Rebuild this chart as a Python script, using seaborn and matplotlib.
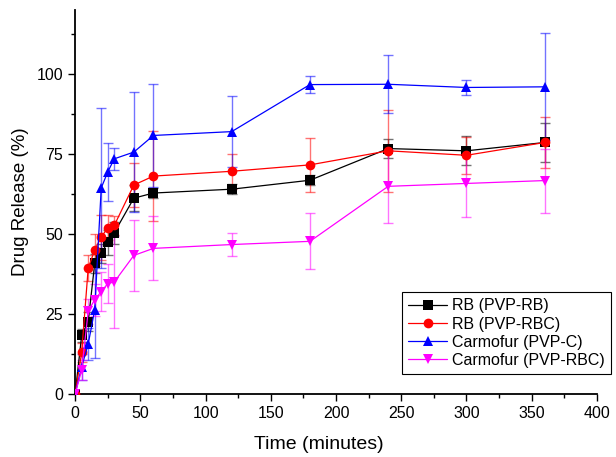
import numpy as np
import pandas as pd
import matplotlib
matplotlib.use("Agg")
import matplotlib.pyplot as plt
import seaborn as sns
from matplotlib.ticker import MultipleLocator

time = [0, 5, 10, 15, 20, 25, 30, 45, 60, 120, 180, 240, 300, 360]

rb_pvp_rb = [0, 18.3, 22.6, 40.8, 44.0, 47.4, 50.4, 61.2, 62.8, 64.0, 66.8, 76.7, 76.0, 78.6]
rb_pvp_rb_err = [0, 2, 3, 3, 3, 4, 3.5, 4, 1.5, 1.5, 1.5, 3, 4.5, 6]

rb_pvp_rbc = [0, 13.0, 39.3, 45.0, 49.0, 52.0, 52.7, 65.3, 68.1, 69.6, 71.6, 76.0, 74.6, 78.6]
rb_pvp_rbc_err = [0, 3, 4, 5, 7, 4, 3, 7, 14, 5.5, 8.5, 12.8, 5.7, 8]

carm_pvp_c = [0, 8.5, 15.6, 26.3, 64.4, 69.4, 73.5, 75.6, 80.8, 82.0, 96.7, 96.8, 95.8, 96.0]
carm_pvp_c_err = [0, 4, 5, 15, 25, 9, 3.5, 18.7, 16, 11, 2.6, 9, 2.4, 16.7]

carm_pvp_rbc = [0, 7.5, 25.8, 29.5, 32.0, 34.5, 35.0, 43.3, 45.5, 46.7, 47.7, 64.9, 65.8, 66.7]
carm_pvp_rbc_err = [0, 3, 4, 5, 6, 6, 14.5, 11, 10, 3.7, 8.8, 11.4, 10.5, 10]

labels = ["RB (PVP-RB)", "RB (PVP-RBC)", "Carmofur (PVP-C)", "Carmofur (PVP-RBC)"]
colors = ["#000000", "#FF0000", "#0000FF", "#FF00FF"]
markers = ["s", "o", "^", "v"]

values = [rb_pvp_rb, rb_pvp_rbc, carm_pvp_c, carm_pvp_rbc]
errors = [rb_pvp_rb_err, rb_pvp_rbc_err, carm_pvp_c_err, carm_pvp_rbc_err]

df = pd.concat([
    pd.DataFrame({"Time": time, "Release": v, "Err": e, "Series": lab})
    for v, e, lab in zip(values, errors, labels)
], ignore_index=True)

sns.set_theme(style="ticks")
plt.rcParams["font.family"] = ["Liberation Sans", "DejaVu Sans"]
plt.rcParams["text.color"] = "black"
plt.rcParams["axes.labelcolor"] = "black"

fig = plt.figure(figsize=(6.16, 4.57), dpi=100)
ax = fig.add_axes([0.122, 0.138, 0.847, 0.840])

for lab, col in zip(labels, colors):
    sub = df[df["Series"] == lab]
    ax.errorbar(sub["Time"], sub["Release"], yerr=sub["Err"], fmt="none",
                ecolor=col, elinewidth=1.0, capsize=3.5, capthick=1.0,
                alpha=0.55, zorder=2)

sns.lineplot(data=df, x="Time", y="Release", hue="Series", style="Series",
             hue_order=labels, style_order=labels,
             palette=dict(zip(labels, colors)),
             markers=dict(zip(labels, markers)), dashes=False,
             markersize=7, markeredgewidth=0, linewidth=0.9,
             ax=ax, zorder=3, legend=True)

ax.set_xlim(0, 400)
ax.set_ylim(0, 120)
ax.xaxis.set_major_locator(MultipleLocator(50))
ax.xaxis.set_minor_locator(MultipleLocator(25))
ax.yaxis.set_minor_locator(MultipleLocator(12.5))
ax.set_yticks([0, 25, 50, 75, 100])
ax.set_yticklabels(["0", "25", "50", "75", "100"])
ax.tick_params(axis="both", which="major", direction="out", length=5, width=1,
               labelsize=11.5, colors="black", labelcolor="black")
ax.tick_params(axis="both", which="minor", direction="out", length=3, width=1,
               colors="black")
for s in ["top", "right"]:
    ax.spines[s].set_visible(False)
for s in ["left", "bottom"]:
    ax.spines[s].set_color("black")
    ax.spines[s].set_linewidth(1.3)

ax.set_xlabel("Time (minutes)", fontsize=14, color="black")
ax.set_ylabel("Drug Release (%)", fontsize=13.5, color="black")
ax.xaxis.set_label_coords((319 - 75) / 522, -0.11)
ax.yaxis.set_label_coords(-0.088, 0.5)

handles, labs = ax.get_legend_handles_labels()
leg = ax.legend(handles, labs, loc="upper left",
                bbox_to_anchor=(402 / 616, 1 - 292 / 457), bbox_transform=fig.transFigure,
                fontsize=11.5, frameon=True, fancybox=False, framealpha=1,
                edgecolor="black", borderpad=0.4, labelspacing=0.2,
                handlelength=2.4, handletextpad=0.3, borderaxespad=0)
leg.get_frame().set_linewidth(0.8)
for t in leg.get_texts():
    t.set_color("black")

fig.savefig("out.png", dpi=100)
